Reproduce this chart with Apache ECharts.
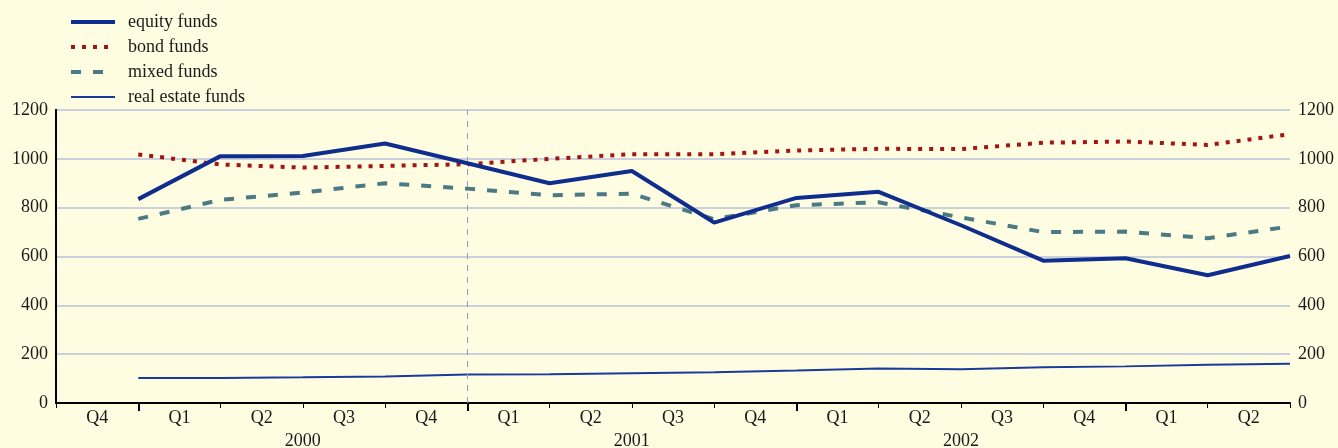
<!DOCTYPE html>
<html>
<head>
<meta charset="UTF-8">
<title>Fund flows</title>
<script src="https://cdn.jsdelivr.net/npm/echarts@6/dist/echarts.min.js"></script>
<style>
  body { margin: 0; background: #fffde1; }
  #root { width: 1338px; height: 448px; }
</style>
</head>
<body>
<div id="root"></div>
<script>
// quarter labels sit between ticks, values sit on the tick at the end of each quarter
var quarters = ['Q4', 'Q1', 'Q2', 'Q3', 'Q4', 'Q1', 'Q2', 'Q3', 'Q4', 'Q1', 'Q2', 'Q3', 'Q4', 'Q1', 'Q2'];
var years = ['2000', '2001', '2002'];
var yearCenters = [3, 7, 11];
var yearTicks = [1, 5, 9, 13];

var equity = [835, 1011, 1012, 1063, 982, 900, 950, 739, 840, 865, 728, 583, 593, 523, 602];
var bond = [1018, 977, 964, 971, 978, 1000, 1019, 1019, 1034, 1041, 1040, 1066, 1071, 1057, 1101];
var mixed = [754, 832, 862, 900, 878, 851, 857, 753, 810, 822, 760, 700, 702, 675, 723];
var realEstate = [102, 102, 105, 109, 117, 118, 122, 126, 133, 141, 138, 146, 150, 157, 161];

function toPoints(arr) {
  return arr.map(function (v, i) { return [i + 1, v]; });
}

var tickAll = [];
for (var i = 0; i <= quarters.length; i++) tickAll.push(i);
var labelPos = quarters.map(function (q, i) { return i + 0.5; });

var font = 'Liberation Serif';
var txt = '#1a1a1a';
var cEquity = '#0f2d8c', cBond = '#a51414', cMixed = '#4b7a84', cReal = '#1b3a9a';

var chart = echarts.init(document.getElementById('root'));

chart.setOption({
  backgroundColor: '#fffde1',
  animation: false,
  textStyle: { fontFamily: font },
  legend: {
    orient: 'vertical',
    left: 64,
    top: 8,
    itemWidth: 44,
    itemHeight: 14,
    itemGap: 7,
    itemStyle: { opacity: 0 },
    textStyle: { fontFamily: font, fontSize: 18, color: txt, padding: [0, 0, 0, 8] },
    data: [
      { name: 'equity funds', lineStyle: { width: 4 } },
      { name: 'bond funds', lineStyle: { width: 4 } },
      { name: 'mixed funds', lineStyle: { width: 4 } },
      { name: 'real estate funds', lineStyle: { width: 2 } }
    ]
  },
  grid: { left: 56, right: 48, top: 110, bottom: 45, outerBoundsMode: 'none' },
  xAxis: [{
    type: 'value',
    min: 0,
    max: 15,
    position: 'bottom',
    axisLine: { show: true, onZero: false, lineStyle: { color: '#000', width: 2 } },
    axisTick: { show: true, length: 5, customValues: tickAll, lineStyle: { color: '#000', width: 1 } },
    axisLabel: {
      customValues: labelPos,
      margin: 6,
      fontFamily: font,
      fontSize: 18,
      color: txt,
      formatter: function (v) { return quarters[Math.floor(v)]; }
    },
    splitLine: { show: false }
  }, {
    type: 'value',
    min: 0,
    max: 15,
    position: 'bottom',
    axisLine: { show: false },
    axisTick: { show: true, length: 8, customValues: yearTicks, lineStyle: { color: '#000', width: 2 } },
    axisLabel: {
      customValues: yearCenters,
      margin: 29,
      fontFamily: font,
      fontSize: 18,
      color: txt,
      formatter: function (v) { return years[yearCenters.indexOf(v)]; }
    },
    splitLine: { show: false }
  }],
  yAxis: [{
    type: 'value',
    min: 0,
    max: 1200,
    interval: 200,
    position: 'left',
    axisLine: { show: true, lineStyle: { color: '#000', width: 2 } },
    axisTick: { show: false },
    axisLabel: { fontFamily: font, fontSize: 18, color: txt, margin: 8, formatter: function (v) { return String(v); } },
    splitLine: { show: true, lineStyle: { color: '#b9c2da', width: 1.5 } }
  }, {
    type: 'value',
    min: 0,
    max: 1200,
    interval: 200,
    position: 'right',
    axisLine: { show: true, lineStyle: { color: '#000', width: 2 } },
    axisTick: { show: false },
    axisLabel: { fontFamily: font, fontSize: 18, color: txt, margin: 8, formatter: function (v) { return String(v); } },
    splitLine: { show: false }
  }],
  series: [{
    name: 'equity funds',
    type: 'line',
    symbol: 'none',
    data: toPoints(equity),
    lineStyle: { color: cEquity, width: 4 },
    itemStyle: { color: cEquity },
    z: 5,
    markLine: {
      silent: true,
      symbol: 'none',
      label: { show: false },
      lineStyle: { color: '#8d9cc4', width: 1, type: [6, 6] },
      data: [{ xAxis: 5 }]
    }
  }, {
    name: 'bond funds',
    type: 'line',
    symbol: 'none',
    data: toPoints(bond),
    lineStyle: { color: cBond, width: 4, type: [4, 7] },
    itemStyle: { color: cBond },
    z: 4
  }, {
    name: 'mixed funds',
    type: 'line',
    symbol: 'none',
    data: toPoints(mixed),
    lineStyle: { color: cMixed, width: 4, type: [10, 12] },
    itemStyle: { color: cMixed },
    z: 3
  }, {
    name: 'real estate funds',
    type: 'line',
    symbol: 'none',
    data: toPoints(realEstate),
    lineStyle: { color: cReal, width: 2 },
    itemStyle: { color: cReal },
    z: 2
  }]
});
</script>
</body>
</html>
